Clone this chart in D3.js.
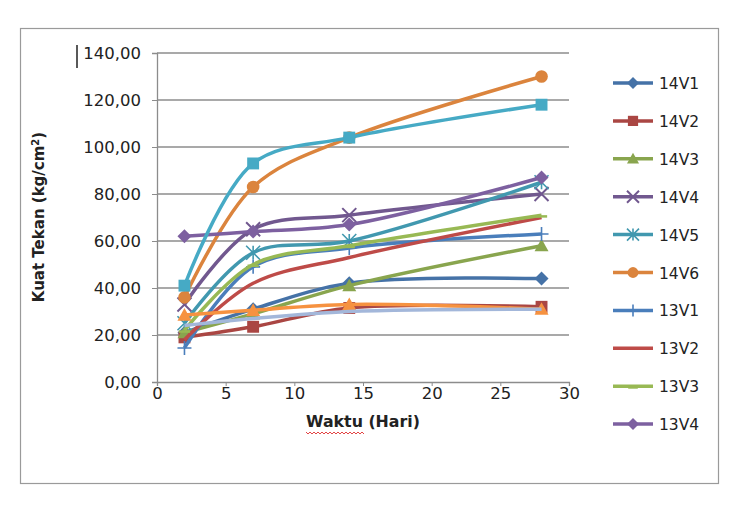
<!DOCTYPE html>
<html>
<head>
<meta charset="utf-8">
<script src="https://cdn.jsdelivr.net/npm/d3@7"></script>
<style>
  body { margin: 0; background: #fff; }
  text { font-family: "DejaVu Sans", sans-serif; fill: #222; }
</style>
</head>
<body>
<div id="chart"></div>
<script>
// chart data
const days = [2, 7, 14, 28];
const seriesNames = ["14V1", "14V2", "14V3", "14V4", "14V5", "14V6", "13V1", "13V2", "13V3", "13V4", "13V5", "13V6", "13V7"];
const v14V1 = [21, 31, 42, 44];
const v14V2 = [19, 23.5, 31.5, 32];
const v14V3 = [21, 29, 41, 58];
const v14V4 = [33, 65, 71, 80];
const v14V5 = [25, 55, 60, 85];
const v14V6 = [36, 83, 104, 130];
const v13V1 = [14.5, 49, 57, 63];
const v13V2 = [18, 42, 53, 70];
const v13V3 = [22, 50, 58, 71];
const v13V4 = [62, 64, 67, 87];
const v13V5 = [41, 93, 104, 118];
const v13V6 = [28.5, 30.5, 33, 31];
const v13V7 = [24, 27, 30, 31];
const seriesValues = [v14V1, v14V2, v14V3, v14V4, v14V5, v14V6, v13V1, v13V2, v13V3, v13V4, v13V5, v13V6, v13V7];
const yTicks = [0, 20, 40, 60, 80, 100, 120, 140];
const xTicks = [0, 5, 10, 15, 20, 25, 30];

const colors = ["#4572A7", "#AA4643", "#89A54E", "#71588F", "#4198AF", "#DB843D",
                "#4A7EBB", "#BE4B48", "#98B954", "#7D60A0", "#46AAC5", "#F69240", "#A3B7DA"];
const markers = ["diamond", "square", "triangle", "x", "star", "circle", "plus", "none", "dash", "diamond", "square", "triangle", "none"];

const width = 748, height = 507;
const svg = d3.select("#chart").append("svg").attr("width", width).attr("height", height);

// outer frame
svg.append("rect").attr("x", 20.5).attr("y", 28.5).attr("width", 698).attr("height", 455)
  .attr("fill", "none").attr("stroke", "#9a9a9a").attr("stroke-width", 1.2);

const x = d3.scaleLinear().domain([0, 30]).range([157, 569]);
const y = d3.scaleLinear().domain([0, 140]).range([382, 53]);

// gridlines
svg.append("g").selectAll("line").data(yTicks.slice(1)).enter().append("line")
  .attr("x1", x(0)).attr("x2", x(30))
  .attr("y1", d => y(d)).attr("y2", d => y(d))
  .attr("stroke", "#8c8c8c").attr("stroke-width", 1.3);

// y axis
const yAxis = svg.append("g").attr("transform", "translate(" + x(0) + ",0)")
  .call(d3.axisLeft(y).tickValues(yTicks).tickSize(5).tickPadding(11)
    .tickFormat(d => d3.format(".2f")(d).replace(".", ",")));
yAxis.select(".domain").attr("stroke", "#8c8c8c").attr("stroke-width", 1.3);
yAxis.selectAll(".tick line").attr("stroke", "#8c8c8c");
yAxis.selectAll("text").attr("font-size", 16.5).attr("font-family", "DejaVu Sans, sans-serif").attr("fill", "#222");

// x axis
const xAxis = svg.append("g").attr("transform", "translate(0," + y(0) + ")")
  .call(d3.axisBottom(x).tickValues(xTicks).tickSize(4).tickPadding(1));
xAxis.select(".domain").attr("stroke", "#8c8c8c").attr("stroke-width", 1.3);
xAxis.selectAll(".tick line").attr("stroke", "#8c8c8c");
xAxis.selectAll("text").attr("font-size", 16.5).attr("font-family", "DejaVu Sans, sans-serif").attr("fill", "#222");

// axis titles
svg.append("text").attr("transform", "translate(44," + 217 + ") rotate(-90)")
  .attr("text-anchor", "middle").attr("font-size", 15).attr("font-weight", "bold")
  .html('Kuat Tekan (kg/cm<tspan baseline-shift="super" font-size="10">2</tspan>)');
svg.append("text").attr("x", 363).attr("y", 427).attr("text-anchor", "middle")
  .attr("font-size", 15.8).attr("font-weight", "bold").text("Waktu (Hari)");
// spell-check squiggle
let sq = "M306,432";
for (let i = 0; i < 29; i++) sq += " l2," + (i % 2 ? -2 : 2);
svg.append("path").attr("d", sq).attr("fill", "none").attr("stroke", "#e03030").attr("stroke-width", 0.9);

// text cursor
svg.append("line").attr("x1", 77).attr("x2", 77).attr("y1", 45).attr("y2", 68)
  .attr("stroke", "#222").attr("stroke-width", 1.5);

function drawMarker(g, type, color, cx, cy, s) {
  if (type === "diamond") {
    g.append("path").attr("d", `M${cx},${cy - s}L${cx + s},${cy}L${cx},${cy + s}L${cx - s},${cy}Z`).attr("fill", color);
  } else if (type === "square") {
    g.append("rect").attr("x", cx - s * 0.85).attr("y", cy - s * 0.85).attr("width", s * 1.7).attr("height", s * 1.7).attr("fill", color);
  } else if (type === "triangle") {
    g.append("path").attr("d", `M${cx},${cy - s}L${cx + s},${cy + s * 0.8}L${cx - s},${cy + s * 0.8}Z`).attr("fill", color);
  } else if (type === "circle") {
    g.append("circle").attr("cx", cx).attr("cy", cy).attr("r", s * 0.9).attr("fill", color);
  } else if (type === "x") {
    g.append("path").attr("d", `M${cx - s},${cy - s}L${cx + s},${cy + s}M${cx - s},${cy + s}L${cx + s},${cy - s}`)
      .attr("stroke", color).attr("stroke-width", 2);
  } else if (type === "star") {
    g.append("path").attr("d", `M${cx - s},${cy - s}L${cx + s},${cy + s}M${cx - s},${cy + s}L${cx + s},${cy - s}M${cx},${cy - s}L${cx},${cy + s}`)
      .attr("stroke", color).attr("stroke-width", 1.6);
  } else if (type === "plus") {
    g.append("path").attr("d", `M${cx - s},${cy}L${cx + s},${cy}M${cx},${cy - s}L${cx},${cy + s}`)
      .attr("stroke", color).attr("stroke-width", 1.6);
  } else if (type === "dash") {
    g.append("rect").attr("x", cx - s * 0.8).attr("y", cy).attr("width", s * 1.6).attr("height", 2.5).attr("fill", color);
  }
}

const line = d3.line().x(d => x(d[0])).y(d => y(d[1])).curve(d3.curveCatmullRom.alpha(0.5));
const plot = svg.append("g");

seriesNames.forEach(function (name, i) {
  const pts = days.map((d, j) => [d, seriesValues[i][j]]);
  const g = plot.append("g");
  g.append("path").datum(pts).attr("d", line).attr("fill", "none")
    .attr("stroke", colors[i]).attr("stroke-width", 3.5).attr("stroke-linejoin", "round");
  pts.forEach(p => drawMarker(g, markers[i], colors[i], x(p[0]), y(p[1]), 7));
});

// legend (only first ten entries fit, as in the original)
const legend = svg.append("g");
seriesNames.slice(0, 10).forEach(function (name, i) {
  const ly = 83 + i * 37.9;
  legend.append("line").attr("x1", 613).attr("x2", 653).attr("y1", ly).attr("y2", ly)
    .attr("stroke", colors[i]).attr("stroke-width", 3.5);
  drawMarker(legend, markers[i], colors[i], 633, ly, 6);
  legend.append("text").attr("x", 659).attr("y", ly + 6).attr("font-size", 15.5).text(name);
});
</script>
</body>
</html>
